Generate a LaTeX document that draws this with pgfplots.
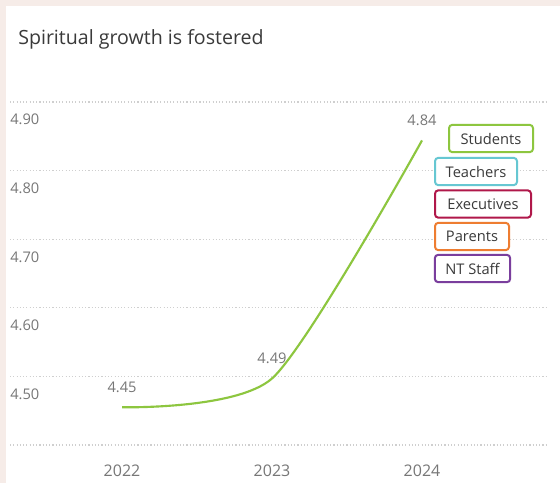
\documentclass[border=0pt]{standalone}
\usepackage{fontspec}
\setmainfont{Open Sans}
\usepackage{pgfplots}
\pgfplotsset{compat=1.18}

\definecolor{bgpink}{HTML}{F6ECE8}
\definecolor{titlegray}{HTML}{3A3A3A}
\definecolor{tickgray}{HTML}{777777}
\definecolor{gridgray}{HTML}{CFCFCF}
\definecolor{stud}{HTML}{8DC63F}
\definecolor{teach}{HTML}{66C7D2}
\definecolor{exec}{HTML}{B0184A}
\definecolor{par}{HTML}{EE7D31}
\definecolor{ntstaff}{HTML}{7A3E9D}

\begin{document}
\begin{tikzpicture}
% 1 px of the reference = 0.75pt, y measured from the bottom
\begin{scope}[x=0.75pt,y=0.75pt]
\fill[bgpink] (0,0) rectangle (560,483);
\fill[white] (6,0) rectangle (560,477);
\node[anchor=base west, inner sep=0, text=titlegray, font=\fontsize{14.7}{18}\selectfont]
  at (18,438) {Spiritual growth is fostered};
\end{scope}

\begin{axis}[
    at={(7.5pt,28.5pt)}, anchor=south west,
    scale only axis, width=403.5pt, height=257.25pt,
    xmin=2021.253, xmax=2024.84, ymin=4.4, ymax=4.9,
    axis line style={draw=none},
    major tick length=0pt,
    xtick={2022,2023,2024},
    xticklabels={2022,2023,2024},
    ytick={4.5,4.6,4.7,4.8,4.9},
    extra y ticks={4.4}, extra y tick labels={},
    ymajorgrids,
    grid style={gridgray, line width=0.85pt, dash pattern=on 0.85pt off 1.6pt},
    /pgf/number format/assume math mode=true,
    yticklabel style={anchor=north west, inner sep=0pt, yshift=-9pt,
        text=tickgray, font=\fontsize{11}{13}\selectfont,
        /pgf/number format/.cd, fixed, fixed zerofill, precision=2},
    xticklabel style={anchor=north, inner sep=0pt, yshift=-15pt,
        text=tickgray, font=\fontsize{12}{14}\selectfont},
    clip=false,
  ]
\addplot[stud, line width=1.6pt, smooth, tension=0.42, mark=none,
    nodes near coords, point meta=explicit symbolic,
    every node near coord/.style={anchor=south, inner sep=0pt, yshift=10.5pt,
        text=tickgray, font=\fontsize{11}{13}\selectfont}]
  coordinates {(2022,4.455) [4.45] (2023,4.497) [4.49] (2024,4.844) [4.84]};
\end{axis}

\begin{scope}[x=0.75pt,y=0.75pt]
\tikzset{leg/.style={draw=#1, line width=1.5pt, rounded corners=2.5pt, fill=white,
    minimum height=20.5pt, inner sep=0pt, text=titlegray, font=\fontsize{11}{13}\selectfont}}
\node[leg=stud, minimum width=63pt] at (491,344.5) {Students};
\node[leg=teach, minimum width=61.5pt] at (476,311.5) {Teachers};
\node[leg=exec, minimum width=72pt] at (483,279) {Executives};
\node[leg=par, minimum width=55.5pt] at (472,246.5) {Parents};
\node[leg=ntstaff, minimum width=56.5pt] at (472.5,214.5) {NT Staff};
\end{scope}
\end{tikzpicture}
\end{document}
